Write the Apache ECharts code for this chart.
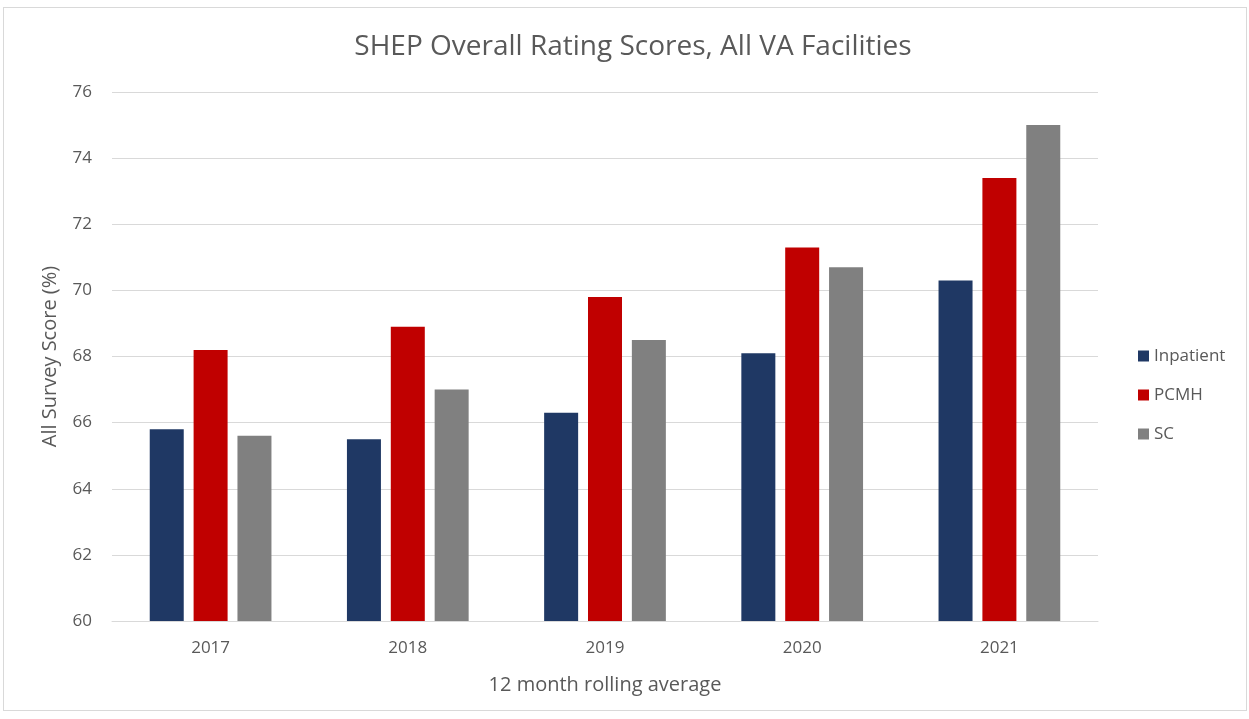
<!DOCTYPE html>
<html>
<head>
<meta charset="UTF-8">
<title>SHEP Overall Rating Scores</title>
<script type="text/javascript" src="https://cdn.jsdelivr.net/npm/echarts@6.0.0/dist/echarts.min.js"></script>
<style>
html, body { margin: 0; padding: 0; background: #fff; }
#frame { position: absolute; left: 3px; top: 7px; width: 1244px; height: 704px; border: 1px solid #d9d9d9; box-sizing: border-box; }
#chart { position: absolute; left: 0; top: 0; width: 1249px; height: 719px; }
</style>
</head>
<body>
<div id="frame"></div>
<div id="chart"></div>
<script type="text/javascript">
// data
var years = ["2017", "2018", "2019", "2020", "2021"];
var inpatient = [65.8, 65.5, 66.3, 68.1, 70.3];
var pcmh = [68.2, 68.9, 69.8, 71.3, 73.4];
var sc = [65.6, 67.0, 68.5, 70.7, 75.0];
var yTicks = [60, 62, 64, 66, 68, 70, 72, 74, 76];

var font = "'Open Sans', 'Noto Sans', sans-serif";

function makeBar(name, data, color) {
	return {
		name: name,
		type: "bar",
		data: data,
		barWidth: 34,
		barGap: "29%",
		itemStyle: { color: color }
	};
}

var chart = echarts.init(document.getElementById("chart"));
chart.setOption({
	animation: false,
	textStyle: { fontFamily: font },
	title: {
		text: "SHEP Overall Rating Scores, All VA Facilities",
		left: 628, top: 28, textAlign: "center",
		textStyle: { fontSize: 28, fontWeight: "normal", color: "#595959", fontFamily: font }
	},
	legend: {
		orient: "vertical",
		left: 1133, top: 339,
		itemWidth: 11, itemHeight: 11, itemGap: 15,
		icon: "rect",
		textStyle: { fontSize: 17, color: "#595959", fontFamily: font, lineHeight: 24 },
		data: ["Inpatient", "PCMH", "SC"]
	},
	grid: { left: 112, right: 151, top: 92, bottom: 98 },
	xAxis: {
		type: "category",
		data: years,
		name: "12 month rolling average",
		nameLocation: "middle",
		nameGap: 54,
		nameTextStyle: { fontSize: 20, color: "#595959" },
		axisLine: { lineStyle: { color: "#d9d9d9" } },
		axisTick: { show: false },
		axisLabel: { fontSize: 17, color: "#595959", margin: 19 }
	},
	yAxis: {
		type: "value",
		min: yTicks[0], max: yTicks[yTicks.length - 1], interval: 2,
		name: "All Survey Score (%)",
		nameLocation: "middle",
		nameGap: 52,
		nameTextStyle: { fontSize: 20, color: "#595959" },
		axisLine: { show: false },
		axisTick: { show: false },
		splitLine: { lineStyle: { color: "#d9d9d9" } },
		axisLabel: { fontSize: 17, color: "#595959", margin: 20 }
	},
	series: [
		makeBar("Inpatient", inpatient, "#1f3864"),
		makeBar("PCMH", pcmh, "#c00000"),
		makeBar("SC", sc, "#808080")
	]
});
</script>
</body>
</html>
